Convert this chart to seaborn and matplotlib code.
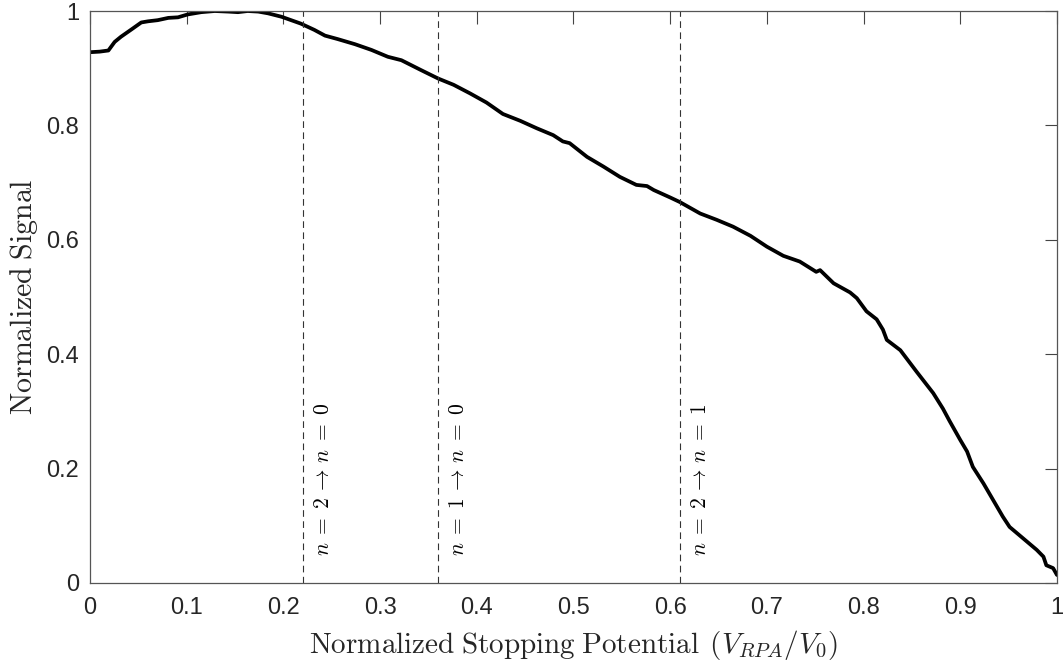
import numpy as np
import pandas as pd
import matplotlib
matplotlib.use("Agg")
import matplotlib.pyplot as plt
import seaborn as sns

# Signal curve
stop_potential = [0.000, 0.010, 0.019, 0.0255, 0.032, 0.043, 0.053, 0.060, 0.070, 0.081,
                  0.091, 0.101, 0.115, 0.129, 0.143, 0.153, 0.163, 0.174, 0.184, 0.198,
                  0.208, 0.218, 0.232, 0.243, 0.256, 0.274, 0.291, 0.308, 0.322, 0.342,
                  0.360, 0.376, 0.393, 0.410, 0.427, 0.445, 0.462, 0.479, 0.489, 0.496,
                  0.514, 0.531, 0.548, 0.565, 0.576, 0.583, 0.600, 0.610, 0.631, 0.648,
                  0.665, 0.683, 0.700, 0.717, 0.734, 0.751, 0.755, 0.769, 0.786, 0.793,
                  0.803, 0.8135, 0.820, 0.824, 0.838, 0.855, 0.872, 0.882, 0.889, 0.900,
                  0.907, 0.913, 0.924, 0.934, 0.944, 0.951, 0.965, 0.979, 0.986, 0.989,
                  0.996, 1.000]
signal = [0.928, 0.929, 0.931, 0.946, 0.955, 0.968, 0.980, 0.982, 0.984, 0.988,
          0.989, 0.994, 0.998, 1.000, 0.999, 0.998, 1.000, 0.999, 0.996, 0.990,
          0.984, 0.978, 0.967, 0.957, 0.951, 0.942, 0.932, 0.920, 0.914, 0.897,
          0.882, 0.871, 0.856, 0.840, 0.820, 0.808, 0.795, 0.783, 0.772, 0.769,
          0.745, 0.728, 0.710, 0.696, 0.694, 0.687, 0.674, 0.666, 0.646, 0.635,
          0.623, 0.607, 0.588, 0.572, 0.562, 0.544, 0.547, 0.524, 0.508, 0.498,
          0.475, 0.461, 0.443, 0.425, 0.407, 0.369, 0.332, 0.305, 0.283, 0.250,
          0.230, 0.203, 0.174, 0.145, 0.116, 0.098, 0.078, 0.058, 0.046, 0.031,
          0.026, 0.014]

# Transition markers
transition_x = [0.22, 0.36, 0.61]
transition_labels = [r"$n\;=\;2\,\rightarrow\,n\;=\;0$",
                     r"$n\;=\;1\,\rightarrow\,n\;=\;0$",
                     r"$n\;=\;2\,\rightarrow\,n\;=\;1$"]

tick_vals_x = [0, 0.1, 0.2, 0.3, 0.4, 0.5, 0.6, 0.7, 0.8, 0.9, 1]
tick_labels_x = ["0", "0.1", "0.2", "0.3", "0.4", "0.5", "0.6", "0.7", "0.8", "0.9", "1"]
tick_vals_y = [0, 0.2, 0.4, 0.6, 0.8, 1]
tick_labels_y = ["0", "0.2", "0.4", "0.6", "0.8", "1"]

df = pd.DataFrame({"V": stop_potential, "S": signal})

sns.set_theme(style="white")
plt.rcParams["font.family"] = ["Liberation Sans", "DejaVu Sans"]
plt.rcParams["mathtext.fontset"] = "cm"

fig = plt.figure(figsize=(10.64, 6.64), dpi=100)
ax = fig.add_axes([0.0846, 0.122, 0.9088, 0.8614])

sns.lineplot(data=df, x="V", y="S", ax=ax, color="black", linewidth=2.7)

for xv, lab in zip(transition_x, transition_labels):
    ax.axvline(xv, color="#333333", linestyle=(0, (6, 4)), linewidth=0.8)
    ax.text(xv + 0.0105, 0.048, lab, rotation=90, ha="left", va="bottom",
            fontsize=15.5, color="black")

ax.set_xlim(0, 1)
ax.set_ylim(0, 1)
ax.set_xticks(tick_vals_x)
ax.set_xticklabels(tick_labels_x)
ax.set_yticks(tick_vals_y)
ax.set_yticklabels(tick_labels_y)
ax.tick_params(direction="in", length=9, width=0.8, color="#444444",
               labelsize=17, labelcolor="#262626", top=True, right=True)
ax.tick_params(axis="x", pad=10)
ax.tick_params(axis="y", pad=8)
for sp in ax.spines.values():
    sp.set_visible(True)
    sp.set_color("#555555")
    sp.set_linewidth(0.9)

ax.set_xlabel(r"$\mathrm{Normalized\;Stopping\;Potential}\;\,(V_{RPA}/V_0)$",
              fontsize=21, color="#262626")
ax.xaxis.set_label_coords(0.5, -0.078)
ax.set_ylabel(r"$\mathrm{Normalized\;Signal}$", fontsize=21.5, color="#262626", labelpad=4)

fig.savefig("out.png", dpi=100)
